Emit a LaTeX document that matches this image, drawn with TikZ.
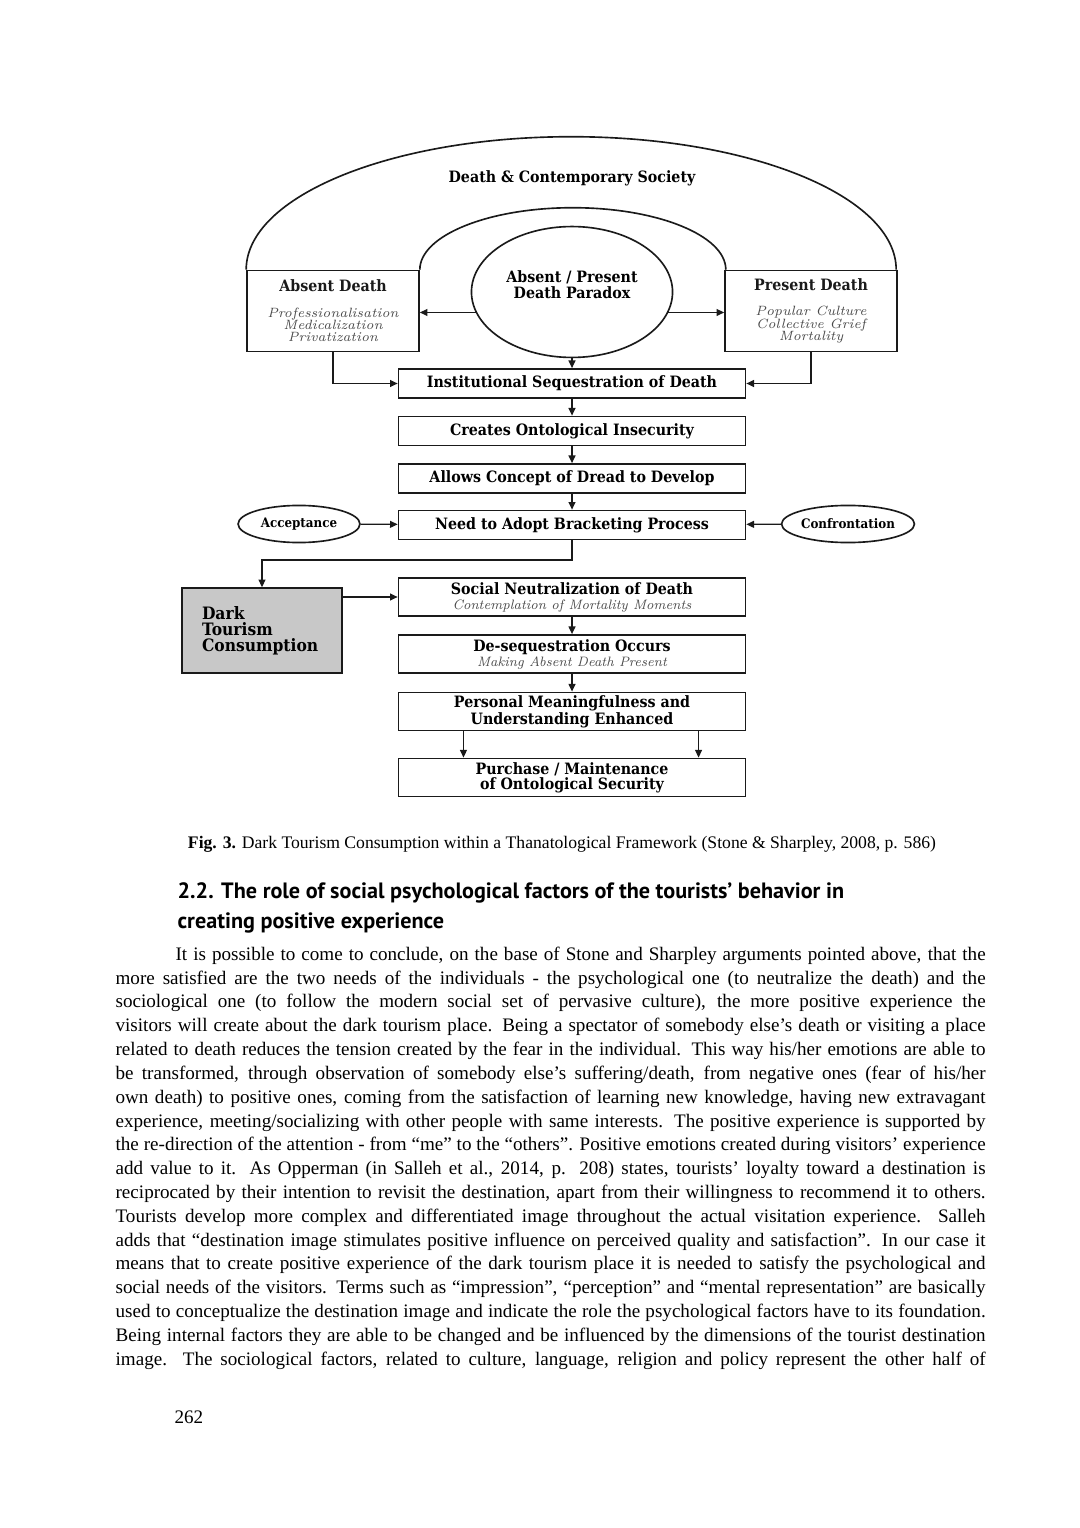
\documentclass[tikz,border=0pt]{standalone}
\usepackage{fontspec}
\usepackage{tikz}
\usetikzlibrary{arrows.meta,shapes.geometric,positioning}
\newfontfamily\bodyfont{Liberation Serif}
\newfontfamily\headfont{PT Sans}
\newfontfamily\diagfont[FakeStretch=0.91]{DejaVu Serif}
\definecolor{ink}{HTML}{1A1A1A}
\definecolor{shade}{HTML}{C8C8C8}
\definecolor{note}{HTML}{4A4A4A}
\newcommand\glossline[1]{{\normalfont\itshape\color{note}\fontsize{7.5}{8}\selectfont #1}}

\begin{document}
\begin{tikzpicture}[x=0.55pt,y=-0.55pt,>={Triangle[length=4.2pt,width=3.8pt]},
  line width=0.7pt,draw=ink,
  stage/.style={draw=ink,line width=0.9pt,minimum width=190.9pt,minimum height=16pt,inner sep=0pt,align=center,font=\diagfont\bfseries\fontsize{8.6}{8.2}\selectfont},
  stagetwo/.style={stage,minimum height=21pt},
  sidebox/.style={draw=ink,line width=0.9pt,minimum width=94.6pt,minimum height=44.5pt,inner sep=0pt,align=center,text=note,font=\itshape\fontsize{7.4}{6.8}\selectfont},
  pole/.style={draw=ink,line width=0.9pt,ellipse,inner sep=0pt,minimum height=20.4pt,font=\diagfont\bfseries\fontsize{7.2}{8}\selectfont},
  darkbox/.style={draw=ink,line width=0.9pt,fill=shade,minimum width=88pt,minimum height=46.7pt,text width=66pt,inner xsep=11pt,align=left,font=\diagfont\bfseries\fontsize{9.4}{8.8}\selectfont}]
\fill[white] (0,0) rectangle (1080,1528);
\useasboundingbox (0,0) rectangle (1080,1528);

% top of the framework
\node[sidebox] (absent) at (333,311) {{\upshape\diagfont\bfseries\color{ink}\fontsize{8.6}{9}\selectfont Absent Death}\\[7pt]Professionalisation\\Medicalization\\Privatization};
\node[sidebox] (present) at (811,311) {{\upshape\diagfont\bfseries\color{ink}\fontsize{8.6}{9}\selectfont Present Death}\\[7pt]Popular Culture\\Collective Grief\\Mortality};
\node[draw=ink,line width=0.9pt,ellipse,minimum width=110.6pt,minimum height=72pt] (paradox) at (572,292) {};
\node[align=center,font=\diagfont\bfseries\fontsize{8.6}{8.8}\selectfont] (paradoxtext) at (572,285) {Absent / Present\\Death Paradox};
\draw[line width=0.9pt] (absent.north west) arc[start angle=180,end angle=360,x radius=325,y radius=133];
\draw[line width=0.9pt] (absent.north east) arc[start angle=180,end angle=360,x radius=153,y radius=62];
\node[font=\diagfont\bfseries\fontsize{8.6}{9}\selectfont] (society) at (572,178) {Death \& Contemporary Society};

% main chain
\node[stage] (inst) at (572,383.5) {Institutional Sequestration of Death};
\node[stage] (creates) at (572,431) {Creates Ontological Insecurity};
\node[stage] (allows) at (572,478.5) {Allows Concept of Dread to Develop};
\node[stage] (need) at (572,525) {Need to Adopt Bracketing Process};
\node[pole,minimum width=67pt] (accept) at (299,524) {Acceptance};
\node[pole,minimum width=71.5pt] (confront) at (848,524) {Confrontation};
\node[darkbox] (dark) at (262,630.5) {Dark\\Tourism\\Consumption};
\node[stagetwo] (social) at (572,597) {Social Neutralization of Death\\\glossline{Contemplation of Mortality Moments}};
\node[stagetwo] (deseq) at (572,654) {De-sequestration Occurs\\\glossline{Making Absent Death Present}};
\node[stagetwo] (personal) at (572,711.5) {Personal Meaningfulness and\\Understanding Enhanced};
\node[stagetwo] (purchase) at (572,777.5) {Purchase / Maintenance\\of Ontological Security};
\coordinate (turn) at (262,560);

\draw[->] (paradox.192) -- (paradox.192 -| absent.east);
\draw[->] (paradox.348) -- (paradox.348 -| present.west);
\draw[->] (absent.south) |- (inst.west);
\draw[->] (present.south) |- (inst.east);
\draw[->] (paradox.south) -- (inst.north);
\draw[->] (inst) -- (creates);
\draw[->] (creates) -- (allows);
\draw[->] (allows) -- (need);
\draw[->] (accept) -- (need);
\draw[->] (confront) -- (need);
\draw[->] (need.south) |- (turn) -- (dark.north);
\draw[->] (dark.east |- social.west) -- (social.west);
\draw[->] (social) -- (deseq);
\draw[->] (deseq) -- (personal);
\draw[->] ([xshift=-59.7pt]personal.south) -- ([xshift=-59.7pt]purchase.north);
\draw[->] ([xshift=69.6pt]personal.south) -- ([xshift=69.6pt]purchase.north);

% page text
\node[anchor=base,inner sep=0pt,font=\bodyfont\fontsize{9.7}{12}\selectfont] (caption) at (562,848) {\textbf{Fig. 3.} Dark Tourism Consumption within a Thanatological Framework (Stone \& Sharpley, 2008, p. 586)};
\node[anchor=base west,inner sep=0pt,font=\headfont\bfseries\fontsize{12.2}{14}\selectfont] (headA) at (177,898) {2.2. The role of social psychological factors of the tourists’ behavior in};
\node[anchor=base west,inner sep=0pt,font=\headfont\bfseries\fontsize{12.2}{14}\selectfont] (headB) at (177,928) {creating positive experience};
\node[anchor=north west,inner sep=0pt,text width=478.5pt,align=justify,font=\bodyfont\fontsize{10.5}{13.1}\selectfont] (body) at (115,943) {\parfillskip=0pt\relax\hspace*{33pt}\strut It is possible to come to conclude, on the base of Stone and Sharpley arguments pointed above, that the\linebreak
more satisfied are the two needs of the individuals - the psychological one (to neutralize the death) and the\linebreak
sociological one (to follow the modern social set of pervasive culture), the more positive experience the\linebreak
visitors will create about the dark tourism place. Being a spectator of somebody else’s death or visiting a place\linebreak
related to death reduces the tension created by the fear in the individual. This way his/her emotions are able to\linebreak
be transformed, through observation of somebody else’s suffering/death, from negative ones (fear of his/her\linebreak
own death) to positive ones, coming from the satisfaction of learning new knowledge, having new extravagant\linebreak
experience, meeting/socializing with other people with same interests. The positive experience is supported by\linebreak
the re-direction of the attention - from “me” to the “others”. Positive emotions created during visitors’ experience\linebreak
add value to it. As Opperman (in Salleh et al., 2014, p. 208) states, tourists’ loyalty toward a destination is\linebreak
reciprocated by their intention to revisit the destination, apart from their willingness to recommend it to others.\linebreak
Tourists develop more complex and differentiated image throughout the actual visitation experience. Salleh\linebreak
adds that “destination image stimulates positive influence on perceived quality and satisfaction”. In our case it\linebreak
means that to create positive experience of the dark tourism place it is needed to satisfy the psychological and\linebreak
social needs of the visitors. Terms such as “impression”, “perception” and “mental representation” are basically\linebreak
used to conceptualize the destination image and indicate the role the psychological factors have to its foundation.\linebreak
Being internal factors they are able to be changed and be influenced by the dimensions of the tourist destination\linebreak
image. The sociological factors, related to culture, language, religion and policy represent the other half of\par};
\node[anchor=base west,inner sep=0pt,font=\bodyfont\fontsize{10.5}{12}\selectfont] (folio) at (174,1423) {262};
\end{tikzpicture}
\end{document}
